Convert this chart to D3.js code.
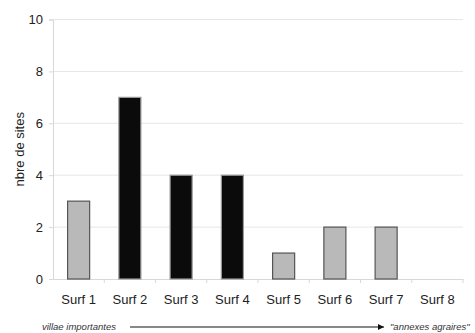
<!DOCTYPE html>
<html>
<head>
<meta charset="utf-8">
<script src="https://d3js.org/d3.v7.min.js"></script>
<style>
  body { margin: 0; background: #fff; }
  text { font-family: "Liberation Sans", Arial, sans-serif; }
</style>
</head>
<body>
<script>
    let categories = ["Surf 1", "Surf 2", "Surf 3", "Surf 4", "Surf 5", "Surf 6", "Surf 7", "Surf 8"];
    let values = [3, 7, 4, 4, 1, 2, 2, 0];
    let kinds = ["gray", "black", "black", "black", "gray", "gray", "gray", "gray"];
    let yTicks = [0, 2, 4, 6, 8, 10];

    let width = 475, height = 333;
    let margin = {left: 53, right: 12, top: 19.5, bottom: 54};

    let svg = d3.select("body").append("svg")
        .attr("width", width)
        .attr("height", height);

    let x = d3.scaleBand()
        .domain(categories)
        .range([margin.left, width - margin.right])
        .paddingInner(0.57)
        .paddingOuter(0.285);

    let band = d3.scaleBand().domain(categories).range([margin.left, width - margin.right]);

    let y = d3.scaleLinear()
        .domain([0, 10])
        .range([height - margin.bottom, margin.top]);

    // gridlines
    svg.append("g")
        .selectAll("line")
        .data(yTicks.slice(1))
        .join("line")
            .attr("x1", margin.left)
            .attr("x2", width - margin.right)
            .attr("y1", d => y(d))
            .attr("y2", d => y(d))
            .attr("stroke", "#e6e6e6");

    // y axis
    let yAxis = svg.append("g")
        .attr("transform", `translate(${margin.left},0)`)
        .call(d3.axisLeft(y).tickValues(yTicks).tickSize(4).tickPadding(6));
    yAxis.select(".domain").attr("stroke", "#d8d8d8");
    yAxis.selectAll(".tick line").attr("stroke", "#d8d8d8");
    yAxis.selectAll("text").attr("font-size", 13).attr("fill", "#222");

    // x axis
    let xAxis = svg.append("g")
        .attr("transform", `translate(0,${height - margin.bottom})`)
        .call(d3.axisBottom(band).tickSize(0).tickPadding(16));
    xAxis.select(".domain").attr("stroke", "#d8d8d8");
    xAxis.selectAll(".tick line").remove();
    xAxis.selectAll("text").attr("font-size", 13).attr("fill", "#222");

    // category separator ticks
    svg.append("g")
        .selectAll("line")
        .data(categories)
        .join("line")
            .attr("x1", d => band(d) + band.bandwidth())
            .attr("x2", d => band(d) + band.bandwidth())
            .attr("y1", height - margin.bottom)
            .attr("y2", height - margin.bottom + 4)
            .attr("stroke", "#d8d8d8");

    // bars
    svg.append("g")
        .selectAll("rect")
        .data(categories)
        .join("rect")
            .attr("x", d => x(d))
            .attr("width", x.bandwidth())
            .attr("y", (d, i) => y(values[i]))
            .attr("height", (d, i) => y(0) - y(values[i]))
            .attr("fill", (d, i) => kinds[i] == "black" ? "#0b0b0b" : "#b9b9b9")
            .attr("stroke", (d, i) => kinds[i] == "black" ? "#9a9a9a" : "#555")
            .attr("stroke-width", (d, i) => values[i] > 0 ? 1.2 : 0);

    // y label
    svg.append("text")
        .attr("transform", `translate(24,${(y(0) + y(10)) / 2}) rotate(-90)`)
        .attr("text-anchor", "middle")
        .attr("font-size", 13)
        .attr("fill", "#222")
        .text("nbre de sites");

    // bottom annotation
    let defs = svg.append("defs");
    defs.append("marker")
        .attr("id", "arrow")
        .attr("viewBox", "0 0 10 10")
        .attr("refX", 10).attr("refY", 5)
        .attr("markerWidth", 12).attr("markerHeight", 6)
        .attr("markerUnits", "userSpaceOnUse")
        .attr("orient", "auto")
        .append("path")
            .attr("d", "M0,0L10,5L0,10Z")
            .attr("fill", "#111");

    svg.append("text")
        .attr("x", 42).attr("y", 330)
        .attr("font-size", 9.5)
        .attr("font-style", "italic")
        .attr("fill", "#333")
        .text("villae importantes");

    svg.append("line")
        .attr("x1", 130).attr("x2", 384)
        .attr("y1", 327).attr("y2", 327)
        .attr("stroke", "#111")
        .attr("stroke-width", 1)
        .attr("marker-end", "url(#arrow)");

    svg.append("text")
        .attr("x", 390).attr("y", 330)
        .attr("font-size", 9.5)
        .attr("font-style", "italic")
        .attr("fill", "#333")
        .text("\"annexes agraires\"");
</script>
</body>
</html>
